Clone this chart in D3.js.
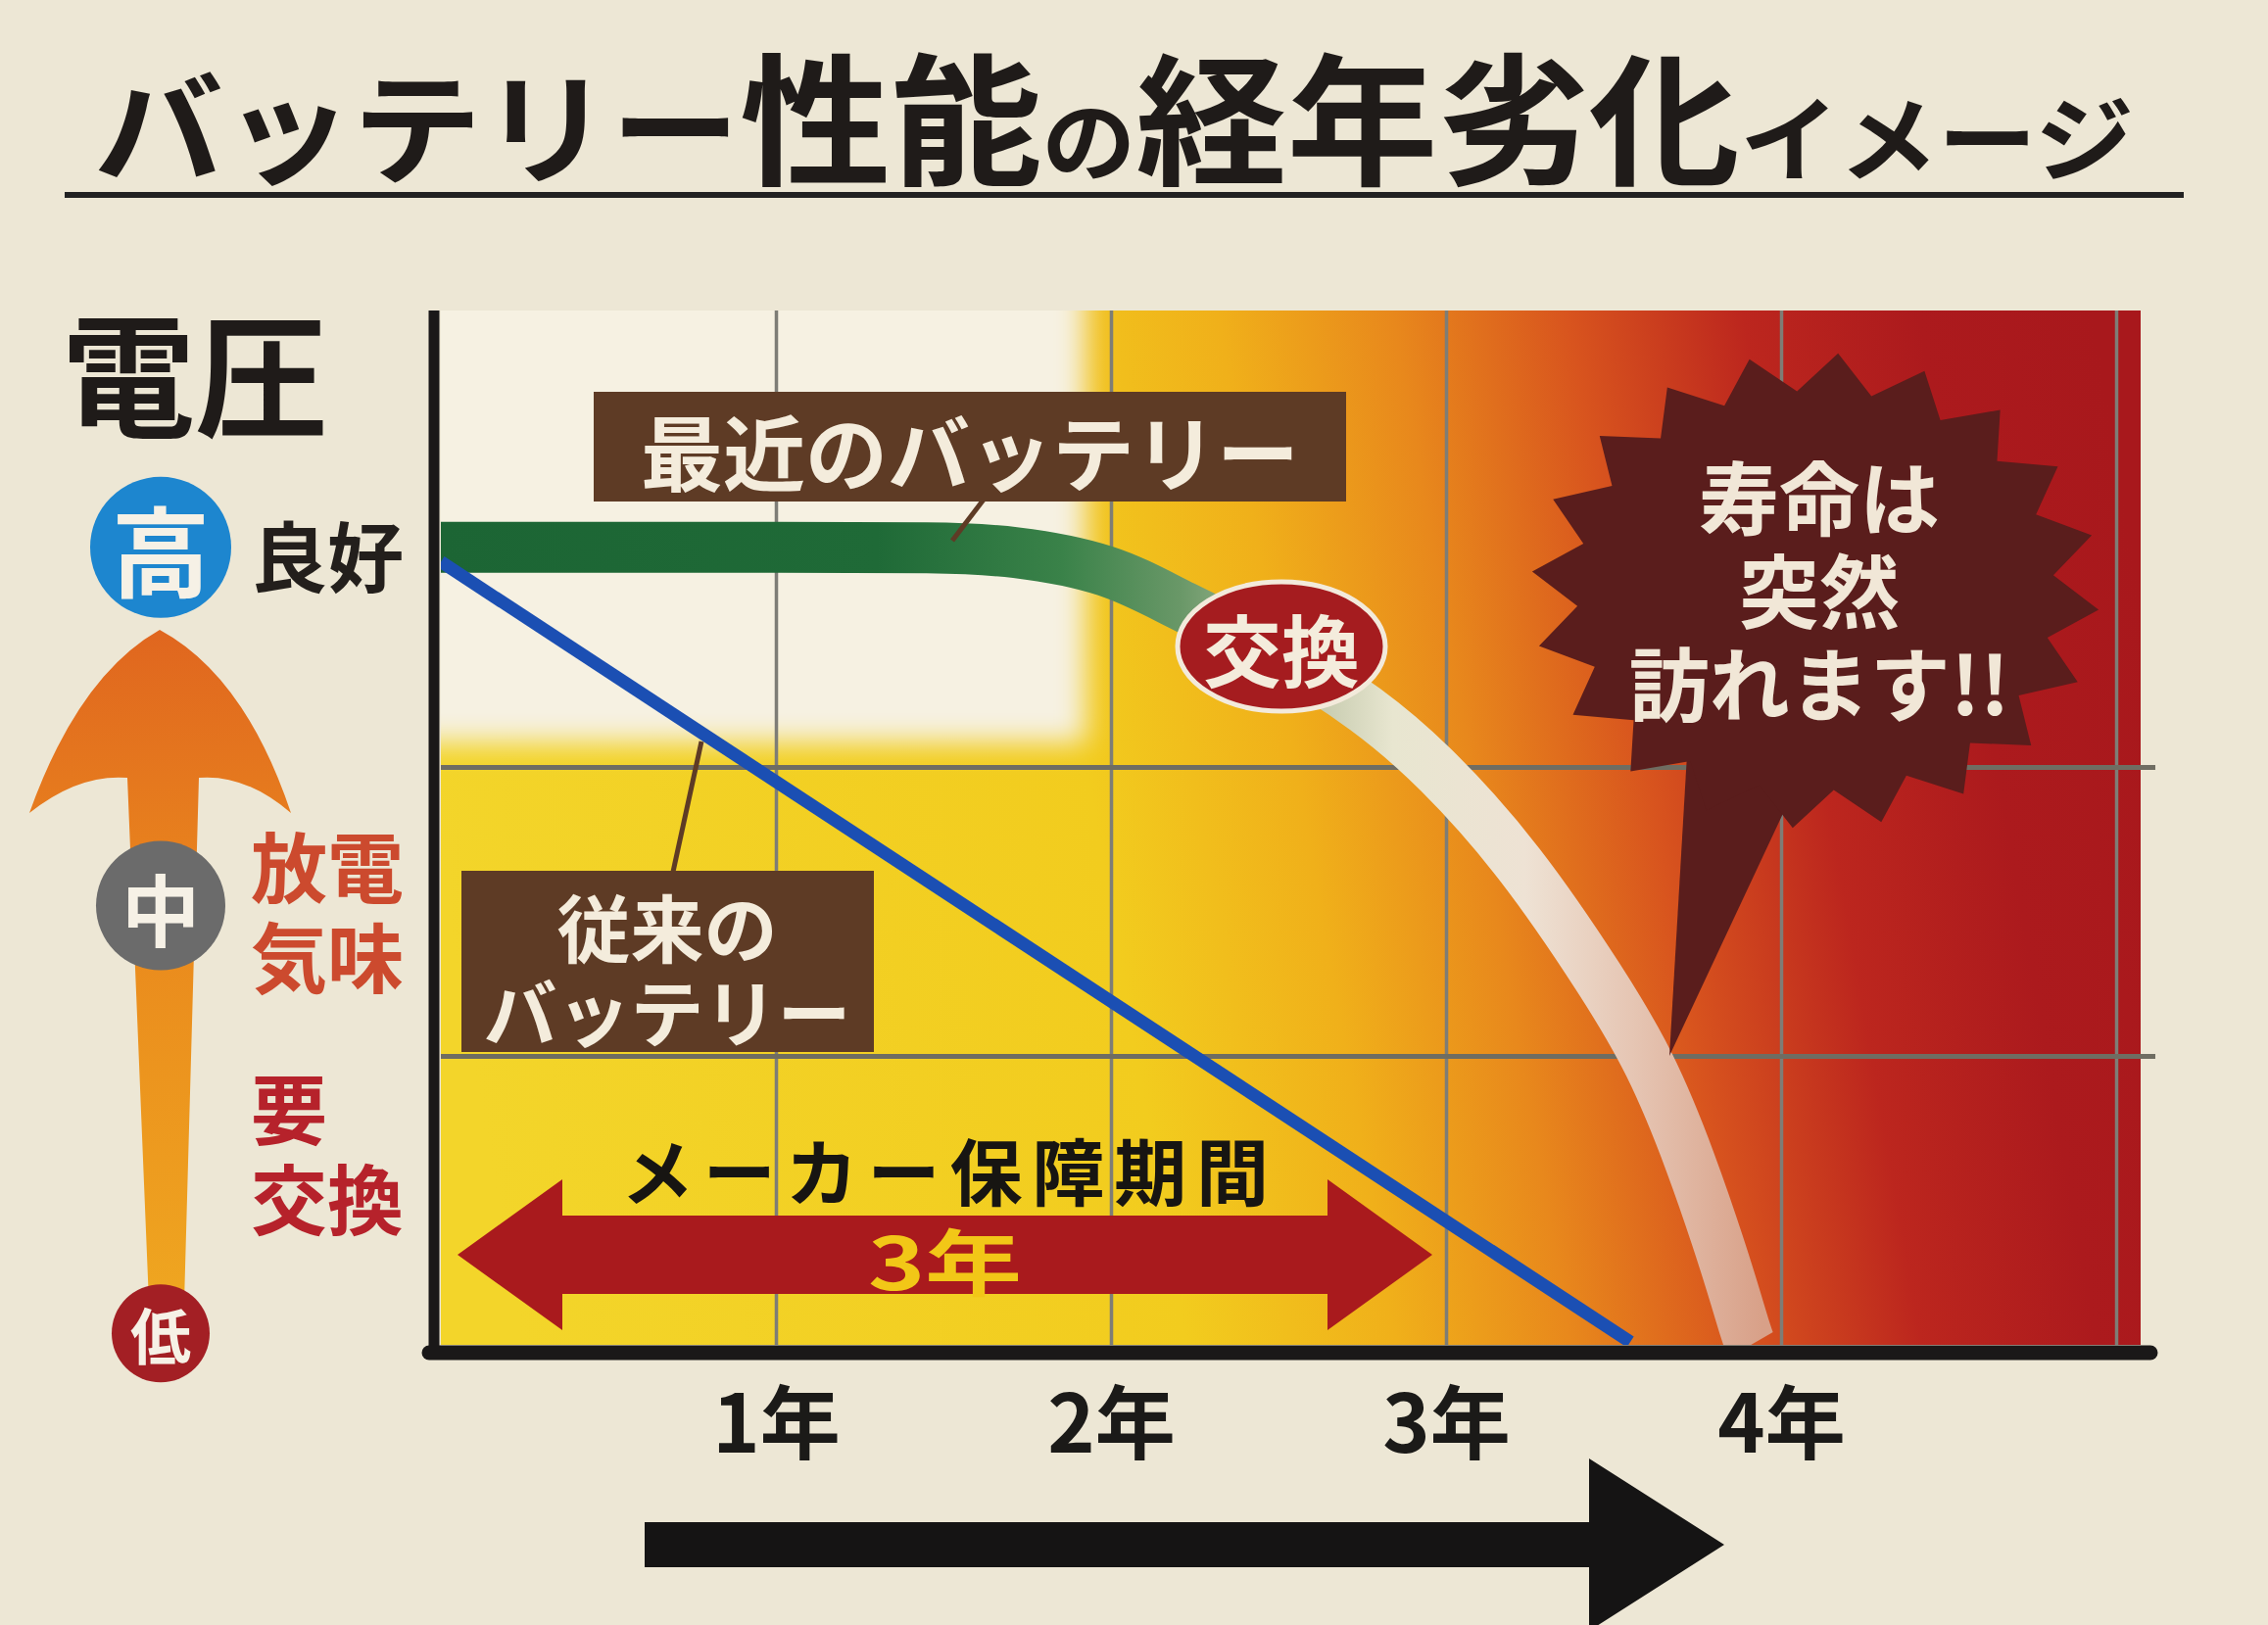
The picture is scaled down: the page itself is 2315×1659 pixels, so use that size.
<!DOCTYPE html>
<html>
<head>
<meta charset="utf-8">
<script src="https://cdn.jsdelivr.net/npm/d3@7"></script>
<style>
  body { margin: 0; background: #ede7d5; }
  svg { display: block; font-family: "Noto Sans CJK JP", "Noto Sans", sans-serif; font-weight: 700; }
</style>
</head>
<body>
<div id="container"></div>
<script>
/* CONSTANTS AND GLOBALS */
const width = 2315,
  height = 1659;
const plot = { left: 450, right: 2185, top: 317, bottom: 1373 };

/* DATA */
const yearTicks = [1, 2, 3, 4];
const yearLabels = ["1年", "2年", "3年", "4年"];
const gridYears = [1, 2, 3, 4, 5];
const gridLevels = [1, 2];

// 最近のバッテリー (years, voltage level)
const recentYears = [0, 0.5, 1.0, 1.5, 1.7, 2.0, 2.2, 2.5, 2.77, 2.97, 3.22, 3.47, 3.61, 3.73, 3.84, 3.9, 3.91];
const recentVolts = [2.76, 2.76, 2.76, 2.76, 2.75, 2.69, 2.56, 2.40, 2.20, 2.0, 1.68, 1.25, 0.98, 0.64, 0.26, 0.02, 0.0];

// 従来のバッテリー
const oldYears = [0, 3.55];
const oldVolts = [2.71, 0.01];

// left side scale
const levelNames = ["高", "中", "低"];
const levelValues = [2.76, 1.52, 0.04];
const levelColors = ["#1d86cf", "#6b6b6b", "#a31f24"];
const statusLines = [["良好"], ["放電", "気味"], ["要", "交換"]];
const statusValues = [2.74, 1.51, 0.67];
const statusColors = ["#231f1c", "#cc4a2e", "#b6222b"];

const warrantyYears = [0, 3];

/* SCALES */
const xScale = d3.scaleLinear().domain([0, 5]).range([450, 2160]);
const yScale = d3.scaleLinear().domain([0, 3.6]).range([1373, 311]);

/* SVG */
const svg = d3.select("#container")
  .append("svg")
  .attr("width", width)
  .attr("height", height);

const defs = svg.append("defs");

function addGradient(id, x1, y1, x2, y2, stops) {
  const g = defs.append("linearGradient")
    .attr("id", id)
    .attr("gradientUnits", "userSpaceOnUse")
    .attr("x1", x1).attr("y1", y1).attr("x2", x2).attr("y2", y2);
  stops.forEach(([o, c]) => g.append("stop").attr("offset", o).attr("stop-color", c));
}

addGradient("bgGrad", plot.left, 900, plot.right, 600, [
  [0, "#f3d52a"], [0.38, "#f2cc1e"], [0.5, "#f0b01a"], [0.6, "#e8881c"],
  [0.7, "#d8541e"], [0.8, "#bc261e"], [0.9, "#ac1a1d"], [1, "#a8181c"]
]);
addGradient("bandGrad", 450, 0, 1800, 0, [
  [0, "#1c6534"], [0.33, "#1f6a37"], [0.47, "#3a8249"], [0.56, "#6a9868"],
  [0.66, "#c4c9ac"], [0.72, "#e8e6d0"], [0.82, "#eee2d4"], [0.9, "#e6c6b4"], [1, "#d8a088"]
]);
addGradient("arrowGrad", 0, 643, 0, 1330, [
  [0, "#e0661f"], [0.45, "#ea8a1d"], [1, "#efa620"]
]);

defs.append("filter")
  .attr("id", "soft")
  .attr("x", "-20%").attr("y", "-20%").attr("width", "140%").attr("height", "140%")
  .append("feGaussianBlur").attr("stdDeviation", 14);

defs.append("clipPath").attr("id", "plotClip")
  .append("rect")
  .attr("x", plot.left).attr("y", plot.top)
  .attr("width", plot.right - plot.left).attr("height", plot.bottom - plot.top);

// multi-line text as one element
function multiText(x, y, lines, lineGap, size, fill, anchor) {
  const t = svg.append("text")
    .attr("x", x).attr("y", y)
    .attr("text-anchor", anchor || "middle")
    .attr("dominant-baseline", "central")
    .attr("font-size", size).attr("fill", fill);
  lines.forEach((l, i) => {
    t.append("tspan")
      .attr("x", x)
      .attr("dy", i === 0 ? -((lines.length - 1) / 2) * lineGap : lineGap)
      .text(l);
  });
  return t;
}

// TITLE
const title = svg.append("text")
  .attr("x", 96).attr("y", 178)
  .attr("textLength", 2082)
  .attr("lengthAdjust", "spacingAndGlyphs")
  .attr("fill", "#1f1b19");
[["バッテリー", 124], ["性能", 145], ["の", 90], ["経年劣化", 145], ["イメージ", 95]]
  .forEach(([t, s]) => title.append("tspan").attr("font-size", s).text(t));

svg.append("line")
  .attr("x1", 66).attr("x2", 2229).attr("y1", 199).attr("y2", 199)
  .attr("stroke", "#222").attr("stroke-width", 6);

// PLOT BACKGROUND
const bgG = svg.append("g").attr("clip-path", "url(#plotClip)");
bgG.append("rect")
  .attr("x", plot.left).attr("y", plot.top)
  .attr("width", plot.right - plot.left).attr("height", plot.bottom - plot.top)
  .attr("fill", "url(#bgGrad)");
bgG.append("rect")
  .attr("x", 380).attr("y", 250)
  .attr("width", 1108 - 380).attr("height", 758 - 250)
  .attr("fill", "#f6f1e2")
  .attr("filter", "url(#soft)");

// GRID
const gx = svg.append("g")
  .attr("transform", `translate(0,${plot.bottom})`)
  .call(d3.axisBottom(xScale).tickValues(gridYears).tickSize(-(plot.bottom - plot.top)).tickFormat(""));
gx.select(".domain").remove();
gx.selectAll("line").attr("stroke", "#7e7d76").attr("stroke-width", 3.5);

const gy = svg.append("g")
  .attr("transform", `translate(${plot.left},0)`)
  .call(d3.axisLeft(yScale).tickValues(gridLevels).tickSize(-(plot.right + 15 - plot.left)).tickFormat(""));
gy.select(".domain").remove();
gy.selectAll("line").attr("stroke", "#6f6d62").attr("stroke-width", 5);

// LINES
const recentData = recentYears.map((y, i) => [y, recentVolts[i]]);
const oldData = oldYears.map((y, i) => [y, oldVolts[i]]);

const bandLine = d3.line()
  .x(d => xScale(d[0]))
  .y(d => yScale(d[1]))
  .curve(d3.curveBasis);

svg.append("g").attr("clip-path", "url(#plotClip)")
  .append("path")
  .datum(recentData)
  .attr("d", bandLine)
  .attr("fill", "none")
  .attr("stroke", "url(#bandGrad)")
  .attr("stroke-width", 52);

const oldLine = d3.line()
  .x(d => xScale(d[0]))
  .y(d => yScale(d[1]));

svg.append("g").attr("clip-path", "url(#plotClip)")
  .append("path")
  .datum(oldData)
  .attr("d", oldLine)
  .attr("fill", "none")
  .attr("stroke", "#1b4fb3")
  .attr("stroke-width", 13);

// AXES LINES
svg.append("line")
  .attr("x1", xScale(0) - 7).attr("x2", xScale(0) - 7)
  .attr("y1", plot.top).attr("y2", plot.bottom + 14)
  .attr("stroke", "#1a1818").attr("stroke-width", 11);
svg.append("line")
  .attr("x1", xScale(0) - 12).attr("x2", plot.right + 10)
  .attr("y1", plot.bottom + 8).attr("y2", plot.bottom + 8)
  .attr("stroke", "#1a1818").attr("stroke-width", 15)
  .attr("stroke-linecap", "round");

// X TICK LABELS
const xAxis = svg.append("g")
  .attr("transform", `translate(0,${plot.bottom})`)
  .call(d3.axisBottom(xScale).tickValues(yearTicks).tickSize(0).tickFormat((d, i) => yearLabels[i]));
xAxis.select(".domain").remove();
xAxis.selectAll("text")
  .attr("y", 110).attr("dy", 0)
  .attr("font-size", 82)
  .attr("font-family", "'Noto Sans CJK JP', sans-serif")
  .attr("font-weight", 700)
  .attr("fill", "#1b1a18");

// LABEL BOXES
const labelBrown = "#5e3b25",
  cream = "#f4ecdc";

svg.append("line")
  .attr("x1", 1004).attr("y1", 510).attr("x2", 972).attr("y2", 552)
  .attr("stroke", labelBrown).attr("stroke-width", 5);
svg.append("rect")
  .attr("x", 606).attr("y", 400).attr("width", 768).attr("height", 112)
  .attr("fill", labelBrown);
svg.append("text")
  .attr("x", 990).attr("y", 458)
  .attr("text-anchor", "middle").attr("dominant-baseline", "central")
  .attr("font-size", 84).attr("fill", cream)
  .text("最近のバッテリー");

svg.append("line")
  .attr("x1", 716).attr("y1", 757).attr("x2", 687).attr("y2", 890)
  .attr("stroke", labelBrown).attr("stroke-width", 5);
svg.append("rect")
  .attr("x", 471).attr("y", 889).attr("width", 421).attr("height", 185)
  .attr("fill", labelBrown);
multiText(681, 987, ["従来の", "バッテリー"], 86, 75, cream);

// 交換 BADGE
svg.append("ellipse")
  .attr("cx", 1308).attr("cy", 660).attr("rx", 106).attr("ry", 66)
  .attr("fill", "#a51c1f").attr("stroke", "#f3eadb").attr("stroke-width", 5);
svg.append("text")
  .attr("x", 1308).attr("y", 660)
  .attr("text-anchor", "middle").attr("dominant-baseline", "central")
  .attr("font-size", 80).attr("fill", cream)
  .text("交換");

// STARBURST
const starC = { x: 1853, y: 603 },
  spikes = 20;
const starPts = d3.range(spikes * 2).map(i => {
  const a = -Math.PI / 2 + (i * Math.PI) / spikes + 0.08;
  const r = i % 2 === 0 ? 1 : 0.84;
  return [starC.x + 290 * r * Math.cos(a), starC.y + 243 * r * Math.sin(a)];
});
const starColor = "#5a1d1c";
svg.append("path")
  .attr("d", "M1722,770 L1838,792 L1704,1078 Z")
  .attr("fill", starColor);
svg.append("path")
  .attr("d", d3.line()(starPts) + "Z")
  .attr("fill", starColor);
multiText(1857, 599, ["寿命は", "突然", "訪れます!!"], 95, 82, "#f1e7d7");

// WARRANTY ARROW
const wx0 = xScale(warrantyYears[0]) + 17,
  wx1 = xScale(warrantyYears[1]) - 14,
  wy = 1281,
  head = 107;
const warrantyPts = [
  [wx0, wy], [wx0 + head, wy - 77], [wx0 + head, wy - 40], [wx1 - head, wy - 40], [wx1 - head, wy - 77],
  [wx1, wy], [wx1 - head, wy + 77], [wx1 - head, wy + 40], [wx0 + head, wy + 40], [wx0 + head, wy + 77]
];
svg.append("path")
  .attr("d", d3.line()(warrantyPts) + "Z")
  .attr("fill", "#a91a1d");
svg.append("text")
  .attr("x", (wx0 + wx1) / 2).attr("y", 1192)
  .attr("text-anchor", "middle").attr("dominant-baseline", "central")
  .attr("font-size", 74).attr("fill", "#171512")
  .attr("textLength", 661).attr("lengthAdjust", "spacing")
  .text("メーカー保障期間");
svg.append("text")
  .attr("x", (wx0 + wx1) / 2).attr("y", 1284)
  .attr("text-anchor", "middle").attr("dominant-baseline", "central")
  .attr("font-size", 74).attr("fill", "#f2c717")
  .attr("textLength", 157).attr("lengthAdjust", "spacingAndGlyphs")
  .text("3年");

// BOTTOM TIME ARROW
svg.append("path")
  .attr("d", "M658,1554 L1622,1554 L1622,1489 L1760,1577 L1622,1665 L1622,1600 L658,1600 Z")
  .attr("fill", "#151414");

// LEFT VOLTAGE SCALE
svg.append("text")
  .attr("x", 63).attr("y", 436)
  .attr("font-size", 136).attr("fill", "#1f1b19")
  .text("電圧");

svg.append("path")
  .attr("d", "M163,643 Q250,690 297,830 Q250,790 203,794 L188,1330 L152,1330 L130,794 Q80,790 30,830 Q80,690 163,643 Z")
  .attr("fill", "url(#arrowGrad)");

const levelR = [72, 66, 50],
  levelFont = [100, 80, 62];
levelNames.forEach((name, i) => {
  const cy = yScale(levelValues[i]);
  svg.append("circle")
    .attr("cx", 164).attr("cy", cy).attr("r", levelR[i])
    .attr("fill", levelColors[i]);
  svg.append("text")
    .attr("x", 164).attr("y", cy)
    .attr("text-anchor", "middle").attr("dominant-baseline", "central")
    .attr("font-size", levelFont[i]).attr("fill", "#f6f1e6")
    .text(name);
});

statusLines.forEach((lines, i) => {
  multiText(256, yScale(statusValues[i]), lines, 92, 78, statusColors[i], "start");
});
</script>
</body>
</html>
